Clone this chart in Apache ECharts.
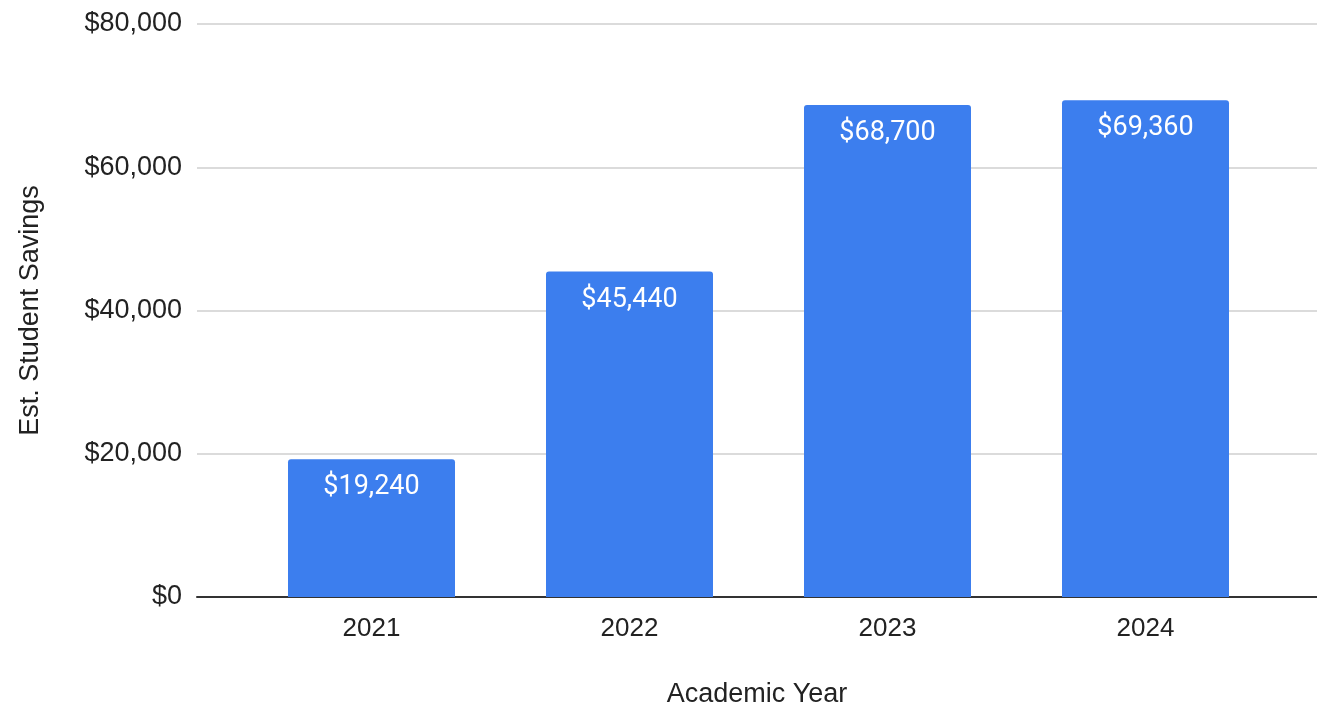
<!DOCTYPE html>
<html>
<head>
<meta charset="utf-8">
<script src="https://cdn.jsdelivr.net/npm/echarts@6/dist/echarts.min.js"></script>
<style>
  html, body { margin: 0; padding: 0; background: #fff; }
  #chart { width: 1317px; height: 705px; }
</style>
</head>
<body>
<div id="chart"></div>
<script>
// Estimated student savings per academic year
const years = ['2021', '2022', '2023', '2024'];
const savings = [19240, 45440, 68700, 69360];
const yTicks = [0, 20000, 40000, 60000, 80000];

const money = v => '$' + Math.round(v).toLocaleString('en-US');

const chart = echarts.init(document.getElementById('chart'), null, { renderer: 'canvas' });

const axisFont = 'Liberation Sans, Arial, sans-serif';

chart.setOption({
  animation: false,
  grid: [
    // full-width frame: gridlines, y labels and baseline
    { left: 197, right: 0, top: 24, bottom: 108, containLabel: false, outerBoundsMode: 'none' },
    // inner band holding the category columns
    { left: 242.5, right: 42.5, top: 24, bottom: 108, containLabel: false, outerBoundsMode: 'none' }
  ],
  xAxis: [
    {
      gridIndex: 0, type: 'value', min: 0, max: 1,
      axisLine: { show: true, lineStyle: { color: '#333', width: 2 } },
      axisTick: { show: false }, axisLabel: { show: false }, splitLine: { show: false },
      name: 'Academic Year', nameLocation: 'middle', nameGap: 84,
      nameTextStyle: { fontFamily: axisFont, fontSize: 27, color: '#222' }
    },
    {
      gridIndex: 1, type: 'category', data: years,
      axisLine: { show: false }, axisTick: { show: false },
      axisLabel: { fontFamily: axisFont, fontSize: 26, color: '#222', margin: 19 }
    }
  ],
  yAxis: [
    {
      gridIndex: 0, type: 'value', min: yTicks[0], max: yTicks[yTicks.length - 1],
      interval: yTicks[1] - yTicks[0],
      axisLine: { show: false }, axisTick: { show: false },
      axisLabel: { fontFamily: axisFont, fontSize: 27, color: '#222', margin: 15, formatter: money },
      splitLine: { lineStyle: { color: '#cfcfcf', width: 1.5 } },
      name: 'Est. Student Savings', nameLocation: 'middle', nameGap: 153,
      nameTextStyle: { fontFamily: axisFont, fontSize: 27, color: '#222' }
    },
    {
      gridIndex: 1, type: 'value', min: yTicks[0], max: yTicks[yTicks.length - 1],
      show: false, splitLine: { show: false }
    }
  ],
  series: [
    {
      type: 'bar', xAxisIndex: 1, yAxisIndex: 1, data: savings,
      barWidth: 167,
      itemStyle: { color: '#3c7eee', borderRadius: [3, 3, 0, 0] },
      label: {
        show: true, position: 'insideTop', distance: 15,
        fontFamily: 'Roboto, sans-serif', fontSize: 27, color: '#fff',
        formatter: p => money(p.value)
      }
    }
  ]
});
</script>
</body>
</html>
